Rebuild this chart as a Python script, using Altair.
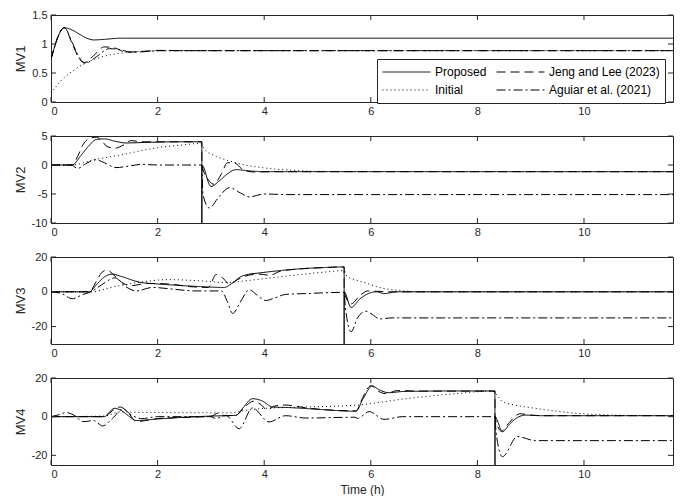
import altair as alt
import pandas as pd

SERIES = ["Proposed", "Jeng and Lee (2023)", "Initial", "Aguiar et al. (2021)"]
DASHES = [[1, 0], [9, 5], [1, 3], [9, 3, 2, 3]]
LEGEND_ORDER = [0, 2, 1, 3]  # legend grid fills column by column
X_TICKS = [0, 2, 4, 6, 8, 10]
T_END = 11.67

# ---------------- MV1 ----------------
mv1_prop_t = [0, 0.25, 0.4, 0.55, 0.7, 0.8, 1.0, 1.3, 2.0, 11.67]
mv1_prop_v = [0.74, 1.28, 1.24, 1.16, 1.09, 1.07, 1.08, 1.10, 1.10, 1.10]
mv1_jeng_t = [0, 0.25, 0.4, 0.55, 0.63, 0.8, 1.0, 1.2, 1.41, 1.7, 2.0, 2.5, 11.67]
mv1_jeng_v = [0.74, 1.28, 1.0, 0.72, 0.68, 0.8, 0.95, 0.93, 0.86, 0.87, 0.89, 0.885, 0.885]
mv1_init_t = [0, 0.2, 0.4, 0.6, 0.8, 1.0, 1.3, 1.6, 2.0, 2.5, 11.67]
mv1_init_v = [0.15, 0.38, 0.53, 0.65, 0.73, 0.79, 0.84, 0.87, 0.88, 0.885, 0.885]
mv1_agui_t = [0, 0.25, 0.4, 0.55, 0.65, 0.85, 1.1, 1.3, 1.5, 1.8, 2.0, 11.67]
mv1_agui_v = [0.74, 1.28, 1.02, 0.74, 0.67, 0.78, 0.92, 0.9, 0.86, 0.87, 0.885, 0.885]

# ---------------- MV2 ----------------
mv2_prop_t = [0, 0.4, 0.55, 0.7, 0.85, 1.0, 1.2, 1.4, 1.8, 2.4, 2.83, 2.83, 2.83, 3.0, 3.15, 3.3, 3.47, 3.7, 4.0, 11.67]
mv2_prop_v = [0, 0, 1.5, 3.2, 4.4, 4.5, 4.1, 3.8, 3.9, 4.0, 4.0, -60, 0, -3.7, -2.8, -1.6, -0.8, -1.0, -1.15, -1.15]
mv2_jeng_t = [0, 0.4, 0.5, 0.6, 0.72, 0.85, 0.95, 1.05, 1.2, 1.35, 1.5, 1.7, 2.83, 2.83, 2.95, 3.05, 3.2, 3.31, 3.45, 3.6, 3.8, 4.2, 11.67]
mv2_jeng_v = [0, 0, 1.5, 3.5, 4.6, 4.8, 4.2, 3.2, 2.9, 3.4, 4.2, 4.0, 4.0, 0, -2.5, -3.3, -1.5, 0.4, 0.3, -0.8, -1.2, -1.15, -1.15]
mv2_init_t = [0, 0.4, 0.8, 1.1, 1.4, 1.7, 2.0, 2.4, 2.8, 2.88, 3.1, 3.35, 3.7, 4.0, 4.5, 5.0, 11.67]
mv2_init_v = [0, 0, 0.9, 1.4, 1.9, 2.5, 3.0, 3.4, 3.7, 2.7, 1.5, 0.7, -0.1, -0.5, -0.9, -1.1, -1.15]
mv2_agui_t = [0, 0.38, 0.5, 0.65, 0.84, 1.0, 1.22, 1.45, 1.7, 2.0, 2.83, 2.85, 2.97, 3.15, 3.35, 3.55, 3.72, 4.0, 4.4, 11.67]
mv2_agui_v = [0, 0, -0.6, 0.2, 0.9, 0.4, -0.45, -0.2, 0.1, 0, 0, -5.0, -7.4, -5.5, -3.9, -4.8, -5.5, -5.0, -5.1, -5.1]

# ---------------- MV3 ----------------
mv3_prop_t = [0, 0.72, 0.85, 1.0, 1.15, 1.3, 1.65, 2.0, 2.4, 2.8, 3.25, 3.4, 3.55, 3.7, 3.9, 4.3, 4.7, 5.1, 5.5, 5.5, 5.5, 5.63, 5.8, 6.0, 6.1, 6.25, 6.5, 11.67]
mv3_prop_v = [0, 0, 4, 8.5, 10.2, 9, 5.6, 4.5, 3.7, 3.0, 2.5, 5, 8.5, 10, 10.8, 12.2, 13.3, 13.9, 14.3, -80, 0, -9, -4, -0.5, 0, -1, 0, 0]
mv3_jeng_t = [0, 0.72, 0.85, 0.95, 1.05, 1.2, 1.35, 1.5, 1.8, 2.2, 2.6, 2.95, 3.1, 3.22, 3.35, 3.5, 3.7, 3.9, 4.1, 4.3, 4.7, 5.1, 5.5, 5.5, 5.63, 5.8, 5.95, 6.1, 6.4, 11.67]
mv3_jeng_v = [0, 0, 6, 11, 12.5, 9, 5, 3.5, 4.8, 4.5, 3, 2.5, 10, 8, 4.5, 7, 9.5, 10.2, 9.5, 11.8, 13.2, 13.9, 14.3, 0, -7, -2, 0.5, 0.3, 0, 0]
mv3_init_t = [0, 0.75, 1.2, 1.7, 2.2, 2.8, 3.3, 3.7, 4.2, 4.7, 5.2, 5.5, 5.55, 5.7, 5.91, 6.2, 6.53, 7.0, 11.67]
mv3_init_v = [0, 0, 3, 5.6, 7, 6.3, 5.3, 6.5, 8.3, 10, 11.5, 12.2, 9, 7, 5, 2.2, 0.8, 0, 0]
mv3_agui_t = [0, 0.2, 0.4, 0.6, 0.75, 0.95, 1.2, 1.4, 1.6, 1.9, 2.3, 2.7, 3.2, 3.3, 3.41, 3.55, 3.72, 3.85, 4.03, 4.2, 4.4, 4.8, 5.5, 5.52, 5.63, 5.75, 5.91, 6.05, 6.16, 6.4, 11.67]
mv3_agui_v = [0, -1, -4, -1.5, 0, 4, 8, 3, 0.5, 2.5, 1.5, 0.5, 0.5, -5, -12.4, -6, 1.2, -1.5, -5, -3.5, -1.5, -1, -0.3, -8, -23, -15, -11.2, -13.5, -15.6, -15, -15]

# ---------------- MV4 ----------------
mv4_prop_t = [0, 1.0, 1.1, 1.19, 1.3, 1.45, 1.6, 2.0, 2.5, 3.0, 3.47, 3.6, 3.78, 3.95, 4.16, 4.47, 5.0, 5.72, 5.85, 6.03, 6.15, 6.34, 6.6, 7.5, 8.33, 8.33, 8.33, 8.47, 8.6, 8.75, 8.9, 9.2, 11.67]
mv4_prop_v = [0, 0, 2.5, 4.3, 3.5, 0.5, -2, -1.2, -0.3, 0.3, 0.7, 4.5, 9.3, 8.3, 5.0, 4.7, 3.8, 2.8, 9, 15.9, 14, 12.4, 13, 13.3, 13.3, -80, 0, -7.8, -4, -0.5, 0.8, 0.5, 0.5]
mv4_jeng_t = [0, 1.0, 1.15, 1.3, 1.45, 1.6, 2.0, 3.0, 3.15, 3.25, 3.47, 3.6, 3.8, 3.95, 4.05, 4.2, 4.4, 4.8, 5.72, 5.85, 6.0, 6.15, 6.28, 6.5, 7.0, 8.33, 8.33, 8.45, 8.6, 8.8, 9.0, 9.3, 11.67]
mv4_jeng_v = [0, 0, 3, 5, 2, -2.5, -1, 0.2, 2, 0.5, 0.7, 4, 8, 6, 3.5, 5.5, 6, 4.5, 3, 10, 16, 13, 11.9, 13.5, 13.2, 13.2, 0, -7.5, -3, 1.5, 0.8, 0.5, 0.5]
mv4_init_t = [0, 1.0, 1.3, 1.6, 3.4, 3.6, 4.0, 4.5, 5.72, 6.0, 6.66, 7.6, 8.28, 8.4, 8.47, 8.7, 9.09, 9.72, 10.3, 11.0, 11.67]
mv4_init_v = [0, 0.3, 2.5, 2.2, 2.0, 3.0, 4.3, 4.8, 5.9, 6.8, 9.3, 11.9, 13.3, 10, 7.8, 6, 4.3, 2.1, 1.0, 0.6, 0.5]
mv4_agui_t = [0, 0.15, 0.28, 0.45, 0.6, 0.8, 0.97, 1.15, 1.35, 1.5, 1.7, 2.0, 3.0, 3.09, 3.28, 3.53, 3.78, 4.09, 4.4, 4.78, 5.7, 5.75, 5.97, 6.25, 6.6, 8.33, 8.35, 8.47, 8.75, 9.09, 9.4, 11.67]
mv4_agui_v = [0, 1, 2.1, 0.5, -2.6, -2, -4.8, -1, 4, 1, -1, 0, 0, -1, 0.7, -6.2, 4.5, -2.7, 0.5, -0.7, -0.3, -0.9, 2.6, -1.4, 0, 0, -8, -20.7, -10.3, -12.4, -12.4, -12.4]

W, H = 622, 87
AX = "#262626"
FONT = "Liberation Sans"
LABEL_EXPR = "'' + datum.value"

LEG_DOMAIN = [SERIES[k] for k in LEGEND_ORDER]
LEG_RANGE = [DASHES[k] for k in LEGEND_ORDER]


def panel(label, series, ydom, yticks, show_legend, xtitle):
    rows = []
    for name, (ts, vs) in zip(SERIES, series):
        for i, (t, v) in enumerate(zip(ts, vs)):
            rows.append({"t": t, "v": v, "s": name, "i": i})
    df = pd.DataFrame(rows)

    x_enc = alt.X("t:Q", scale=alt.Scale(domain=[0, T_END], nice=False, zero=False),
                  axis=alt.Axis(values=X_TICKS, ticks=False, domain=False, grid=False,
                                labelPadding=3, titlePadding=5, labelExpr=LABEL_EXPR),
                  title=xtitle)
    y_enc = alt.Y("v:Q", scale=alt.Scale(domain=ydom, nice=False, zero=False),
                  axis=alt.Axis(values=yticks, ticks=False, domain=False, grid=False,
                                labelPadding=4, titlePadding=4, labelExpr=LABEL_EXPR),
                  title=label)
    if show_legend:
        leg = alt.Legend(title=None, orient="none", legendX=326, legendY=44, columns=2,
                         symbolType="stroke", symbolSize=2300, symbolStrokeWidth=1,
                         symbolStrokeColor="black", labelFontSize=12, labelFont=FONT,
                         labelColor="black", strokeColor=AX, fillColor="white",
                         padding=5, clipHeight=16, rowPadding=2, columnPadding=9,
                         labelOffset=4, labelLimit=200)
    else:
        leg = None
    lines = alt.Chart(df).mark_line(clip=True, color="black", strokeWidth=1,
                                    interpolate="monotone").encode(
        x=x_enc, y=y_enc,
        strokeDash=alt.StrokeDash("s:N", scale=alt.Scale(domain=LEG_DOMAIN, range=LEG_RANGE),
                                  sort=LEG_DOMAIN, legend=leg),
        detail="s:N",
        order=alt.Order("i:Q"),
    )
    xt = pd.DataFrame({"t": X_TICKS})
    yt = pd.DataFrame({"v": yticks})
    tb = alt.Chart(xt).mark_rule(color=AX, strokeWidth=1).encode(x=x_enc, y=alt.value(H), y2=alt.value(H - 5))
    tt = alt.Chart(xt).mark_rule(color=AX, strokeWidth=1).encode(x=x_enc, y=alt.value(0), y2=alt.value(5))
    tl = alt.Chart(yt).mark_rule(color=AX, strokeWidth=1).encode(y=y_enc, x=alt.value(0), x2=alt.value(5))
    tr = alt.Chart(yt).mark_rule(color=AX, strokeWidth=1).encode(y=y_enc, x=alt.value(W), x2=alt.value(W - 5))
    return alt.layer(lines, tb, tt, tl, tr).properties(width=W, height=H)


p1 = panel("MV1", [(mv1_prop_t, mv1_prop_v), (mv1_jeng_t, mv1_jeng_v), (mv1_init_t, mv1_init_v), (mv1_agui_t, mv1_agui_v)],
           [0, 1.5], [0, 0.5, 1, 1.5], True, None)
p2 = panel("MV2", [(mv2_prop_t, mv2_prop_v), (mv2_jeng_t, mv2_jeng_v), (mv2_init_t, mv2_init_v), (mv2_agui_t, mv2_agui_v)],
           [-10, 5], [-10, -5, 0, 5], False, None)
p3 = panel("MV3", [(mv3_prop_t, mv3_prop_v), (mv3_jeng_t, mv3_jeng_v), (mv3_init_t, mv3_init_v), (mv3_agui_t, mv3_agui_v)],
           [-30, 20], [-20, 0, 20], False, None)
p4 = panel("MV4", [(mv4_prop_t, mv4_prop_v), (mv4_jeng_t, mv4_jeng_v), (mv4_init_t, mv4_init_v), (mv4_agui_t, mv4_agui_v)],
           [-25, 20], [-20, 0, 20], False, "Time (h)")

chart = alt.vconcat(p1, p2, p3, p4, spacing=12).resolve_scale(
    x="independent", y="independent", strokeDash="independent"
).properties(
    padding={"left": 5, "top": 0, "right": 5, "bottom": 0},
    background="white",
).configure_view(
    stroke=AX, strokeWidth=1
).configure_axis(
    labelFont=FONT, labelFontSize=11, labelColor=AX,
    titleFont=FONT, titleFontSize=12, titleFontWeight="normal", titleColor=AX,
)
chart = chart.configure_axisY(titleFontSize=13)

chart.save("out.html", embed_options={"renderer": "svg", "actions": False})
